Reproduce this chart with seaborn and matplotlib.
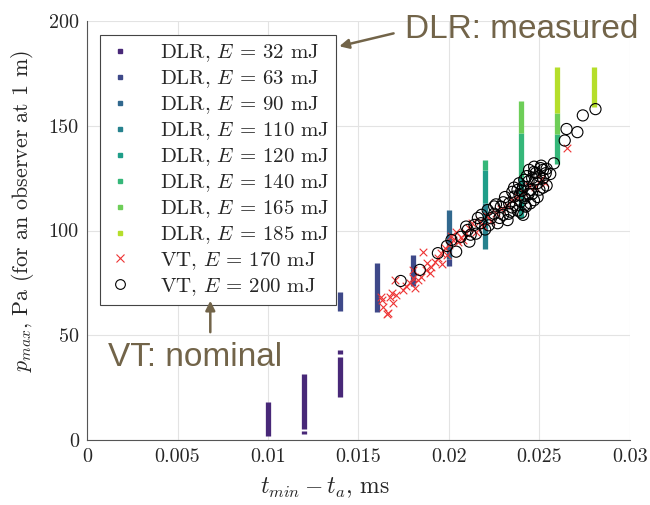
import numpy as np
import pandas as pd
import matplotlib
matplotlib.use("Agg")
import matplotlib.pyplot as plt
from matplotlib.lines import Line2D
import seaborn as sns

# DLR measured ranges: time, lower, upper, energy (mJ)
dlr_t = [0.010, 0.012, 0.012, 0.014, 0.014,
         0.014, 0.016, 0.018, 0.020,
         0.020,
         0.022,
         0.022, 0.024,
         0.022, 0.024, 0.026,
         0.024, 0.026,
         0.026, 0.028]
dlr_lo = [2, 5, 2.8, 20.5, 41,
          61.5, 61, 73.5, 83,
          86.5,
          91,
          113, 106,
          129, 125.7, 132,
          146.6, 146,
          156, 159]
dlr_hi = [18, 31.5, 4.3, 39.5, 43,
          70.8, 84.7, 88.3, 86.5,
          109.8,
          113,
          129, 125.7,
          133.7, 146.6, 146,
          162, 156,
          178.3, 178.3]
dlr_e = [32, 32, 32, 32, 32,
         63, 63, 63, 63,
         90,
         110,
         120, 120,
         140, 140, 140,
         165, 165,
         185, 185]
energies = [32, 63, 90, 110, 120, 140, 165, 185]

# VT nominal, E = 170 mJ
vt170_t = [0.01659, 0.01637, 0.01628, 0.01674, 0.01710, 0.01690, 0.01747, 0.01764,
           0.01784, 0.01802, 0.01830, 0.01846, 0.01857, 0.01873, 0.01893, 0.01900,
           0.01921, 0.01939, 0.01957, 0.01976, 0.02003, 0.02022, 0.02049, 0.02067,
           0.02095, 0.01802, 0.01815, 0.01880, 0.01960, 0.01990, 0.02010, 0.02040,
           0.02080, 0.02110, 0.02130, 0.02150, 0.02170, 0.02190, 0.02210, 0.02230,
           0.02260, 0.02290, 0.02320, 0.02350, 0.02380, 0.02410, 0.02440, 0.02478,
           0.02510, 0.02530, 0.02650, 0.01701, 0.01683, 0.01665, 0.01626]
vt170_p = [60.2, 63.7, 66.9, 68.1, 69.2, 65.5, 71.6, 73.5,
           74.8, 77.4, 76.4, 78.0, 89.9, 81.2, 79.6, 82.8,
           85.1, 86.8, 89.1, 91.5, 93.1, 95.5, 94.7, 97.1,
           98.7, 81.2, 72.5, 84.5, 84.0, 88.5, 97.5, 99.5,
           95.5, 101.0, 103.5, 99.5, 104.5, 102.0, 107.0, 104.5,
           108.5, 110.5, 112.0, 114.5, 116.0, 118.5, 121.5, 121.0,
           124.5, 122.5, 139.4, 76.4, 70.0, 60.5, 68.4]

# VT nominal, E = 200 mJ
vt200_t = [0.01733, 0.01839, 0.01939, 0.01989, 0.02040, 0.02095, 0.02113, 0.02014,
           0.02066, 0.02104, 0.02141, 0.02177, 0.02214, 0.02232, 0.02269, 0.02287,
           0.02324, 0.02333, 0.02361, 0.02379, 0.02388, 0.02397, 0.02416, 0.02425,
           0.02443, 0.02452, 0.02471, 0.02489, 0.02507, 0.02535, 0.02580, 0.02640,
           0.02650, 0.02710, 0.02740, 0.02810, 0.02200, 0.02250, 0.02300, 0.02310,
           0.02340, 0.02350, 0.02370, 0.02390, 0.02400, 0.02410, 0.02420, 0.02430,
           0.02440, 0.02460, 0.02470, 0.02480, 0.02500, 0.02520, 0.02260, 0.02160,
           0.02120, 0.02150, 0.02180, 0.02220, 0.02250, 0.02280, 0.02300, 0.02330,
           0.02350, 0.02360, 0.02380, 0.02400, 0.02420, 0.02440, 0.02460, 0.02480,
           0.02500, 0.02520, 0.02540, 0.02410, 0.02450, 0.02490, 0.02520, 0.02470,
           0.02510, 0.02540, 0.02560]
vt200_p = [75.9, 81.2, 89.2, 92.6, 89.9, 101.9, 94.7, 95.5,
           97.0, 100.3, 102.7, 103.5, 109.8, 105.9, 103.5, 111.4,
           105.0, 113.0, 116.2, 119.4, 122.6, 113.8, 124.2, 111.4,
           129.0, 119.4, 130.5, 122.6, 129.8, 127.4, 132.1, 143.0,
           148.5, 147.0, 155.0, 158.0, 100.5, 108.0, 107.5, 116.0,
           109.0, 118.5, 112.0, 117.0, 108.5, 121.0, 115.5, 126.0,
           117.5, 125.0, 114.5, 127.5, 126.0, 129.0, 112.5, 106.0,
           98.0, 98.5, 107.5, 102.5, 111.5, 106.0, 113.5, 108.0,
           111.0, 120.5, 109.5, 119.0, 112.0, 123.5, 117.5, 124.5,
           119.5, 125.0, 121.5, 107.5, 113.0, 116.0, 120.5, 128.0,
           131.0, 129.5, 127.0]

xticks = [0, 0.005, 0.01, 0.015, 0.02, 0.025, 0.03]
xticklabels = ["0", "0.005", "0.01", "0.015", "0.02", "0.025", "0.03"]
yticks = [0, 50, 100, 150, 200]

sns.set_style("white")
plt.rcParams["font.family"] = ["cmr10", "DejaVu Serif"]
plt.rcParams["mathtext.fontset"] = "cm"
plt.rcParams["axes.unicode_minus"] = False

palette = sns.color_palette("viridis", len(energies))
colors = dict(zip(energies, palette))
ann_color = "#726449"

fig = plt.figure(figsize=(6.5, 5.05), dpi=100)
ax = fig.add_axes([0.134, 0.129, 0.835, 0.829])

dlr = pd.DataFrame({"t": dlr_t, "lo": dlr_lo, "hi": dlr_hi, "E": dlr_e})
for _, r in dlr.iterrows():
    ax.vlines(r.t, r.lo, r.hi, color=colors[int(r.E)], lw=3.8, zorder=2)

sns.scatterplot(x=vt170_t, y=vt170_p, marker="x", s=30, color="#ee3333",
                linewidth=0.8, ax=ax, zorder=3)
sns.scatterplot(x=vt200_t, y=vt200_p, marker="o", s=64, facecolor="none",
                edgecolor="black", linewidth=0.8, ax=ax, zorder=4)

ax.set_xlim(0, 0.03)
ax.set_ylim(0, 200)
ax.set_xticks(xticks)
ax.set_xticklabels(xticklabels)
ax.set_yticks(yticks)
ax.tick_params(labelsize=14.5, direction="in", length=4, color="#444444", pad=6)
ax.grid(True, color="#e3e3e3", lw=0.8)
ax.set_axisbelow(True)
for s in ["top", "right"]:
    ax.spines[s].set_visible(False)
for s in ["left", "bottom"]:
    ax.spines[s].set_color("#555555")
    ax.spines[s].set_linewidth(0.8)

ax.set_xlabel(r"$t_{min} - t_a$, ms", fontsize=17)
ax.xaxis.set_label_coords(0.438, -0.085)
ax.set_ylabel(r"$p_{max}$, Pa (for an observer at 1 m)", fontsize=15.8)
ax.yaxis.set_label_coords(-0.094, 0.547)

handles = [Line2D([], [], ls="none", marker="s", ms=3.5, color=colors[e]) for e in energies]
labels = [rf"DLR, $E$ = {e} mJ" for e in energies]
handles.append(Line2D([], [], ls="none", marker="x", ms=6, mew=0.8, color="#ee3333"))
labels.append(r"VT, $E$ = 170 mJ")
handles.append(Line2D([], [], ls="none", marker="o", ms=7, mew=0.8, mfc="none", color="black"))
labels.append(r"VT, $E$ = 200 mJ")
leg = ax.legend(handles, labels, loc="upper left", bbox_to_anchor=(0.024, 0.967),
                borderaxespad=0, fontsize=15, frameon=True, fancybox=False,
                edgecolor="#444444", framealpha=1, labelspacing=0.2,
                handlelength=1.2, handletextpad=1.3, borderpad=0.35)
leg.get_frame().set_linewidth(0.8)
leg.set_zorder(5)

ax.text(0.01755, 192, "DLR: measured", fontsize=24, color=ann_color,
        family="Liberation Sans", ha="left", va="baseline", clip_on=False)
ax.annotate("", xy=(0.01379, 187.7), xytext=(0.01709, 194.5),
            arrowprops=dict(arrowstyle="-|>", color=ann_color, lw=1.8, mutation_scale=14),
            annotation_clip=False, zorder=6)
ax.text(0.00115, 35.5, "VT: nominal", fontsize=24, color=ann_color,
        family="Liberation Sans", ha="left", va="baseline")
ax.annotate("", xy=(0.00681, 67.8), xytext=(0.00681, 50.1),
            arrowprops=dict(arrowstyle="-|>", color=ann_color, lw=1.8, mutation_scale=14),
            annotation_clip=False, zorder=6)

fig.savefig("out.png", dpi=100)
